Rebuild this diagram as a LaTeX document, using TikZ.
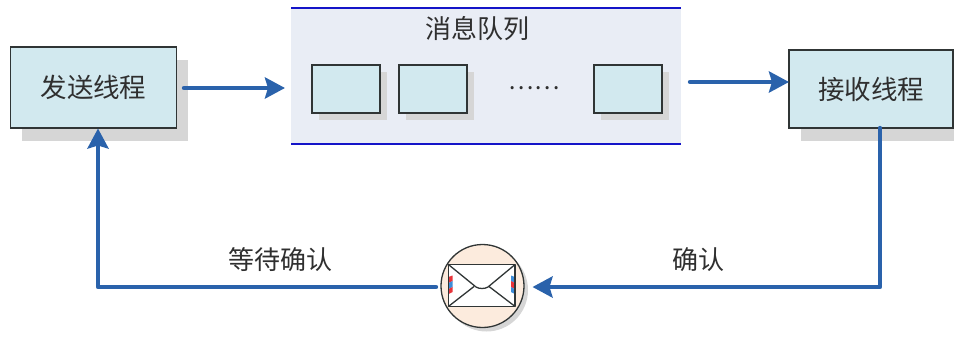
\documentclass[tikz,border=0pt]{standalone}
\usepackage{fontspec}
\setmainfont{Noto Sans CJK SC}
\usetikzlibrary{arrows.meta,shadows,calc}
\definecolor{boxfill}{HTML}{D2E9EF}
\definecolor{boxline}{HTML}{303535}
\definecolor{shadowc}{HTML}{D6D6D6}
\definecolor{queuefill}{HTML}{E9EDF5}
\definecolor{queueline}{HTML}{1414C8}
\definecolor{flow}{HTML}{2A62AB}
\definecolor{txt}{HTML}{2F2F2F}
\definecolor{mailfill}{HTML}{FCEBDD}
\definecolor{stripeR}{HTML}{E8333A}
\definecolor{stripeB}{HTML}{3D8CD8}
\tikzset{
  thread/.style={draw=boxline,line width=1.3pt,fill=boxfill,inner sep=0pt,outer sep=0pt,
    text=txt,font=\fontsize{26.5}{30}\selectfont,
    general shadow={shadow xshift=11.5pt,shadow yshift=-13pt,fill=shadowc}},
  msg/.style={draw=boxline,line width=1.2pt,fill=boxfill,inner sep=0pt,outer sep=0pt,
    minimum width=68pt,minimum height=48pt,
    general shadow={shadow xshift=7pt,shadow yshift=-7pt,fill=shadowc}},
  label/.style={text=txt,inner sep=0pt,font=\fontsize{26}{30}\selectfont},
  flowline/.style={draw=flow,line width=4.4pt,line cap=round,line join=round,
    -{Stealth[length=20pt,width=21pt,inset=3pt]}},
  mailline/.style={draw=boxline,line width=1.3pt,line join=round}
}
\begin{document}
\begin{tikzpicture}[x=1pt,y=-1pt]
\useasboundingbox (0,0) rectangle (954,338);
% queue panel
\fill[queuefill] (291,8) rectangle (681,144);
\draw[queueline,line width=1.3pt] (291,8) -- (681,8);
\draw[queueline,line width=1.3pt] (291,144) -- (681,144);
\node[label] (qtitle) at (477,29) {消息队列};
\node[msg] (m1) at (346,89) {};
\node[msg] (m2) at (433,89) {};
\node[msg] (m3) at (628,89) {};
\node[label,font=\fontsize{24}{30}\selectfont] (dots) at (534,88) {……};
% threads
\node[thread,minimum width=166pt,minimum height=81pt] (send) at (93.5,87.5) {发送线程};
\node[thread,minimum width=164pt,minimum height=78pt] (recv) at (871,89) {接收线程};
% mail
\node[circle,draw=boxline,line width=1.3pt,fill=mailfill,minimum size=83pt,inner sep=0pt,outer sep=0pt,
  general shadow={shadow xshift=4pt,shadow yshift=-4pt,fill=shadowc}] (mail) at (482.5,286) {};
\fill[white] (448.5,264.5) rectangle (515,306.5);
\fill[stripeR] (448.5,277) -- (452.5,275.5) -- (452.5,281) -- (448.5,283) -- cycle;
\fill[stripeB] (448.5,283) -- (452.5,281) -- (452.5,287) -- (448.5,289) -- cycle;
\fill[stripeR] (448.5,289) -- (452.5,287) -- (452.5,292) -- (448.5,294) -- cycle;
\fill[stripeB] (515,277) -- (511,275.5) -- (511,281) -- (515,283) -- cycle;
\fill[stripeR] (515,283) -- (511,281) -- (511,287) -- (515,289) -- cycle;
\fill[stripeB] (515,289) -- (511,287) -- (511,292) -- (515,294) -- cycle;
\draw[mailline] (448.5,264.5) rectangle (515,306.5);
\draw[mailline] (449,265) -- (476,287) .. controls (479,289) and (485,289) .. (488,287) -- (514.5,265);
\draw[mailline] (449,306) -- (474,286.5);
\draw[mailline] (514.5,306) -- (489,286.5);
% connectors
\coordinate (a1s) at (184,88);
\coordinate (a1e) at (285,88);
\coordinate (a2s) at (690,82);
\coordinate (a2e) at (recv.west |- a2s);
\coordinate (c1) at (880,287);
\coordinate (c2) at (98,287);
\coordinate (rb) at (880,128);
\coordinate (sb) at (98,128.5);
\coordinate (mr) at (524.5,287);
\coordinate (ml) at (436,287);
\draw[flowline] (a1s) -- (a1e);
\draw[flowline] (a2s) -- (a2e);
\draw[flowline] (rb) -- (c1) -- ([xshift=8pt]mr);
\draw[flowline] (ml) -- (c2) -- (sb);
\node[label] (wait) at (280,260) {等待确认};
\node[label] (ack) at (698,260) {确认};
\end{tikzpicture}
\end{document}
